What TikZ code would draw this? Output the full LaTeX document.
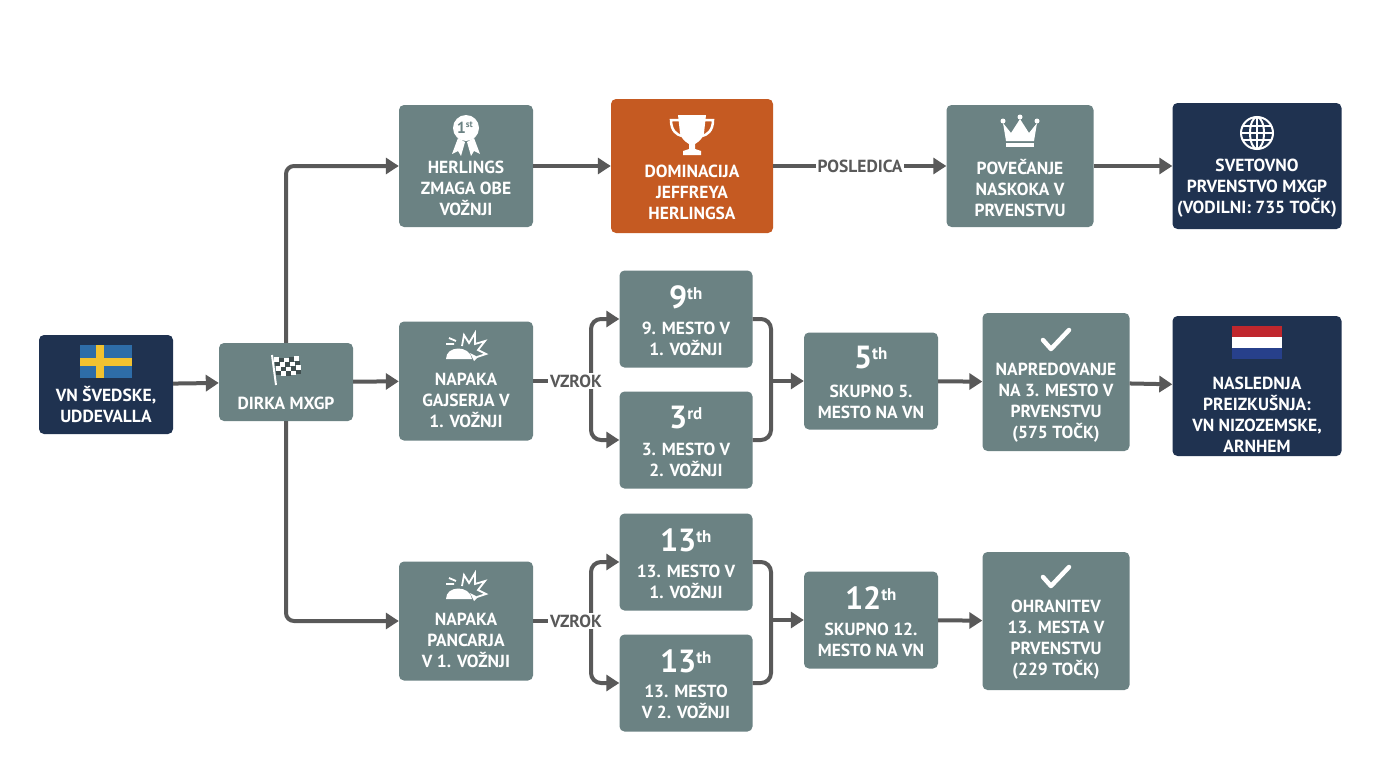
\documentclass[tikz,border=0pt]{standalone}
\usepackage{fontspec}
\setmainfont{PT Sans}
\usetikzlibrary{arrows.meta}
\definecolor{gbox}{HTML}{6B8283}
\definecolor{nbox}{HTML}{1F3250}
\definecolor{obox}{HTML}{C55A22}
\definecolor{ln}{HTML}{595959}
\definecolor{sblue}{HTML}{2E6DA8}
\definecolor{syel}{HTML}{F2C230}
\definecolor{nred}{HTML}{C0272D}
\definecolor{nblu}{HTML}{27408B}
\begin{document}
\begin{tikzpicture}[x=1pt,y=-1pt,
 box/.style={draw=none,rounded corners=5pt,inner sep=0pt},
 g/.style={box,fill=gbox}, n/.style={box,fill=nbox}, o/.style={box,fill=obox},
 tx/.style={text=white,font=\bfseries\fontsize{17.5}{21}\selectfont,align=center,inner sep=0pt},
 big/.style={text=white,font=\bfseries\fontsize{32}{32}\selectfont,inner sep=0pt},
 conn/.style={draw=ln,line width=4pt,-{Triangle[length=13pt,width=16pt]}},
 plain/.style={draw=ln,line width=4pt},
 lab/.style={fill=white,text=ln,font=\bfseries\fontsize{17.5}{18}\selectfont,inner sep=2pt},
 chk/.style={draw=white,line width=4.5pt,line cap=round,line join=round}]
\useasboundingbox (0,0) rectangle (1376,768);
\fill[white] (0,0) rectangle (1376,768);
% boxes
\node[n,minimum width=134pt,minimum height=99pt] (swe) at (106,384.5) {};
\node[g,minimum width=134pt,minimum height=78pt] (dirka) at (286,382) {};
\node[g,minimum width=134pt,minimum height=122pt] (herl) at (466,166) {};
\node[o,minimum width=162pt,minimum height=134pt] (dom) at (692,166) {};
\node[g,minimum width=147pt,minimum height=122pt] (pov) at (1020,166) {};
\node[n,minimum width=169pt,minimum height=126pt] (svet) at (1257,166) {};
\node[g,minimum width=134pt,minimum height=119pt] (gaj) at (466,381) {};
\node[g,minimum width=133pt,minimum height=97pt] (n9) at (686,319) {};
\node[g,minimum width=133pt,minimum height=97pt] (n3) at (686,440) {};
\node[g,minimum width=134pt,minimum height=97pt] (s5) at (871,381) {};
\node[g,minimum width=147pt,minimum height=138pt] (napr) at (1056,382) {};
\node[n,minimum width=169pt,minimum height=140pt] (nasl) at (1257,386) {};
\node[g,minimum width=134pt,minimum height=119pt] (panc) at (466,621) {};
\node[g,minimum width=133pt,minimum height=97pt] (m13a) at (686,562) {};
\node[g,minimum width=133pt,minimum height=97pt] (m13b) at (686,683) {};
\node[g,minimum width=134pt,minimum height=97pt] (s12) at (871,620) {};
\node[g,minimum width=147pt,minimum height=138pt] (ohr) at (1056,621) {};
% texts
\node[tx] at (106,404) {VN ŠVEDSKE,\\UDDEVALLA};
\node[tx] at (286,403) {DIRKA MXGP};
\node[tx] at (466,188) {HERLINGS\\ZMAGA OBE\\VOŽNJI};
\node[tx] at (692,192) {DOMINACIJA\\JEFFREYA\\HERLINGSA};
\node[tx] at (1020,188) {POVEČANJE\\NASKOKA V\\PRVENSTVU};
\node[tx] at (1257,188) {SVETOVNO\\PRVENSTVO MXGP\\(VODILNI: 735 TOČK)};
\node[tx] at (466,400) {NAPAKA\\GAJSERJA V\\1. VOŽNJI};
\node[tx] at (686,339) {9. MESTO V\\1. VOŽNJI};
\node[tx] at (686,460) {3. MESTO V\\2. VOŽNJI};
\node[tx] at (871,402) {SKUPNO 5.\\MESTO NA VN};
\node[tx] at (1056,403) {NAPREDOVANJE\\NA 3. MESTO V\\PRVENSTVU\\(575 TOČK)};
\node[tx] at (1257,415) {NASLEDNJA\\PREIZKUŠNJA:\\VN NIZOZEMSKE,\\ARNHEM};
\node[tx] at (466,640) {NAPAKA\\PANCARJA\\V 1. VOŽNJI};
\node[tx] at (686,582) {13. MESTO V\\1. VOŽNJI};
\node[tx] at (686,702) {13. MESTO\\V 2. VOŽNJI};
\node[tx] at (871,640) {SKUPNO 12.\\MESTO NA VN};
\node[tx] at (1056,640) {OHRANITEV\\13. MESTA V\\PRVENSTVU\\(229 TOČK)};
\node[big] at (686,297) {9\textsuperscript{\fontsize{17}{17}\selectfont th}};
\node[big] at (686,418) {3\textsuperscript{\fontsize{17}{17}\selectfont rd}};
\node[big] at (871,358) {5\textsuperscript{\fontsize{17}{17}\selectfont th}};
\node[big] at (686,540) {13\textsuperscript{\fontsize{17}{17}\selectfont th}};
\node[big] at (686,661) {13\textsuperscript{\fontsize{17}{17}\selectfont th}};
\node[big] at (871,598) {12\textsuperscript{\fontsize{17}{17}\selectfont th}};
% icons
\fill[sblue] (80,345) rectangle (132,378);
\fill[syel] (96,345) rectangle (104,378);
\fill[syel] (80,357.5) rectangle (132,365.5);
\fill[nred] (1232,326) rectangle (1282,337);
\fill[white] (1232,337) rectangle (1282,348);
\fill[nblu] (1232,348) rectangle (1282,359);
\begin{scope}[shift={(272,355)}]
\draw[white,line width=2pt] (0,0) -- (4,30);
\foreach \i in {0,...,4}{\foreach \j in {0,...,3}{
 \pgfmathtruncatemacro\p{mod(\i+\j,2)}
 \ifnum\p=0 \fill[white] ({2+\i*5+\j*0.8},{2+\j*4.5+0.6*sin(\i*60)}) rectangle ++(5,4.5);
 \else \fill[gbox!60!black] ({2+\i*5+\j*0.8},{2+\j*4.5+0.6*sin(\i*60)}) rectangle ++(5,4.5);\fi}}
\end{scope}
\fill[white] (458,138) -- (452,154) -- (458,151) -- (461,156) -- (465,142) -- cycle;
\fill[white] (474,138) -- (480,154) -- (474,151) -- (471,156) -- (467,142) -- cycle;
\fill[white] (466,128) circle (13);
\node[text=gbox,font=\bfseries\fontsize{16}{16}\selectfont,inner sep=0pt] at (465,128) {1\textsuperscript{\fontsize{9}{9}\selectfont st}};
\begin{scope}[shift={(692,133)}]
\fill[white] (-14,-18) -- (14,-18) -- (12,0) .. controls (10,8) and (4,10) .. (3,11) -- (3,16) -- (9,18) -- (9,22) -- (-9,22) -- (-9,18) -- (-3,16) -- (-3,11) .. controls (-4,10) and (-10,8) .. (-12,0) -- cycle;
\draw[white,line width=2.5pt] (-13,-13) -- (-21,-13) .. controls (-21,-2) and (-15,2) .. (-10,3);
\draw[white,line width=2.5pt] (13,-13) -- (21,-13) .. controls (21,-2) and (15,2) .. (10,3);
\end{scope}
\begin{scope}[shift={(1020,133)}]
\fill[white] (-17,-10) -- (-9,0) -- (0,-14) -- (9,0) -- (17,-10) -- (14,8) -- (-14,8) -- cycle;
\fill[white] (-14,10) rectangle (14,14);
\fill[white] (0,-16) circle (2.5) (-17,-12) circle (2.5) (17,-12) circle (2.5);
\end{scope}
\begin{scope}[shift={(1257,133)},white,line width=2pt]
\draw (0,0) circle (16);
\draw (0,0) ellipse (7 and 16);
\draw (-16,0) -- (16,0) (0,-16) -- (0,16);
\draw (-14,-7) -- (14,-7) (-14,7) -- (14,7);
\end{scope}
\foreach \cx/\cy in {466/349,466/589}{
\begin{scope}[shift={(\cx,\cy)}]
\draw[white,line width=1.8pt,line join=miter] (-4,-3) -- (-2,-14) -- (3,-6) -- (9,-16) -- (9,-5) -- (19,-8) -- (12,1) -- (20,5) -- (11,8);
\draw[white,line width=1.8pt] (-20,-5) -- (-12,-5) (-17,-11) -- (-10,-8);
\fill[white] (-20,10) .. controls (-20,-4) and (4,-4) .. (6,10) -- cycle;
\fill[white] (4,4) -- (12,8) -- (8,12) -- cycle;
\end{scope}}
\draw[chk] (1043,340) -- (1051,349) -- (1069,330);
\draw[chk] (1043,577) -- (1051,586) -- (1069,567);
% connectors
\draw[conn] (swe) -- (dirka);
\draw[conn,rounded corners=8pt] (dirka.north) |- (herl.west);
\draw[conn,rounded corners=8pt] (dirka.south) |- (panc.west);
\draw[conn] (dirka) -- (gaj);
\draw[conn] (herl) -- (dom);
\draw[conn] (dom) -- (pov);
\node[lab] at (860,166) {POSLEDICA};
\draw[conn] (pov) -- (svet);
\coordinate (b1) at (591,381);
\coordinate (b2) at (591,621);
\coordinate (j1) at (771,381);
\coordinate (j2) at (771,620);
\draw[plain] (gaj) -- (b1);
\draw[conn,rounded corners=10pt] (b1) |- (n9.west);
\draw[conn,rounded corners=10pt] (b1) |- (n3.west);
\draw[plain] (panc) -- (b2);
\draw[conn,rounded corners=10pt] (b2) |- (m13a.west);
\draw[conn,rounded corners=10pt] (b2) |- (m13b.west);
\node[lab] at (576,381) {VZROK};
\node[lab] at (576,621) {VZROK};
\draw[plain,rounded corners=10pt] (n9.east) -| (j1) (n3.east) -| (j1);
\draw[conn] (j1) -- (s5);
\draw[plain,rounded corners=10pt] (m13a.east) -| (j2) (m13b.east) -| (j2);
\draw[conn] (j2) -- (s12);
\draw[conn] (s5) -- (napr);
\draw[conn] (napr) -- (nasl);
\draw[conn] (s12) -- (ohr);
\end{tikzpicture}
\end{document}
